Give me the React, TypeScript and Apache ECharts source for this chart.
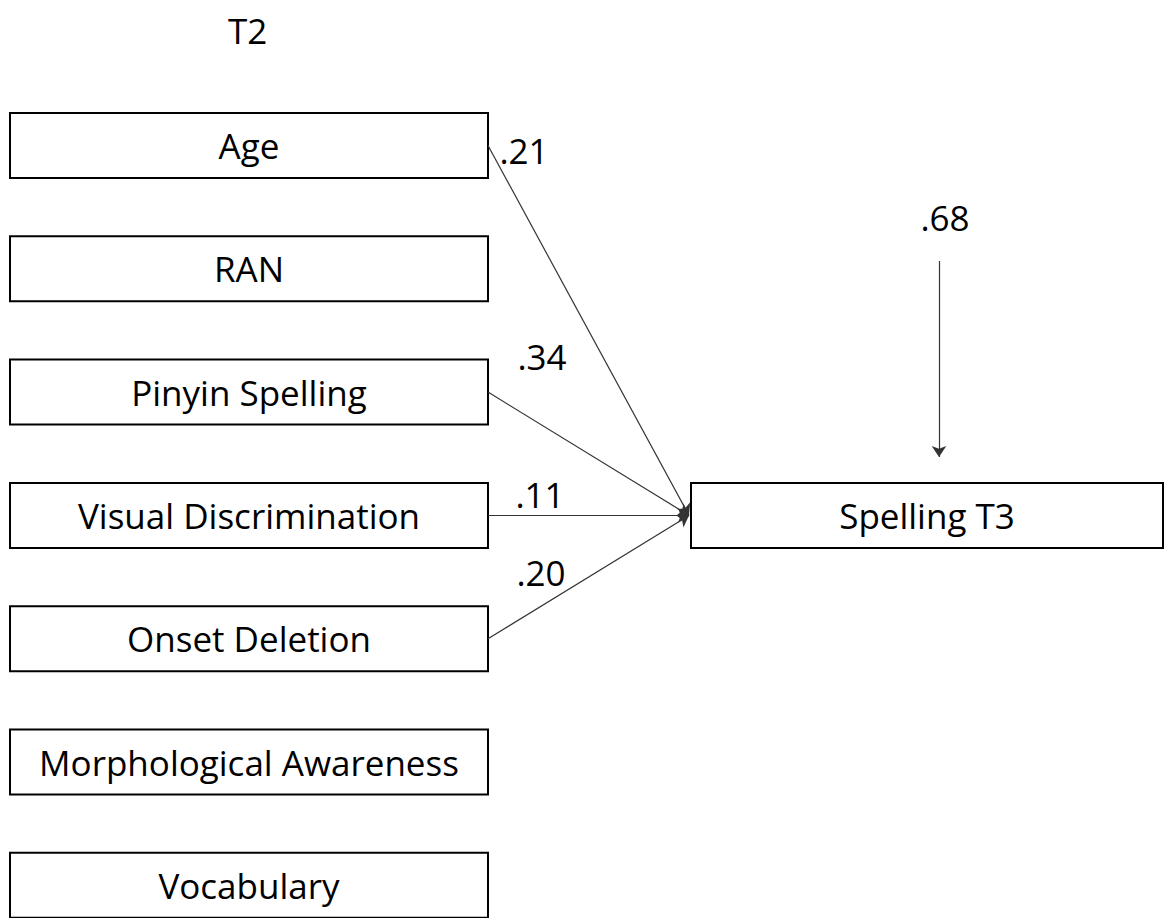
import React, { useEffect, useRef } from 'react';
import * as echarts from 'echarts';

// ---- data ----
const timeLabel = 'T2';
const predictors = [
  'Age',
  'RAN',
  'Pinyin Spelling',
  'Visual Discrimination',
  'Onset Deletion',
  'Morphological Awareness',
  'Vocabulary',
];
const outcome = 'Spelling T3';
const outcomeRow = 3;
const coefficients = ['.21', '', '.34', '.11', '.20', '', ''];
const residual = '.68';

// ---- layout (pixels) ----
const W = 1164;
const H = 918;
const BOX_X0 = 10;
const BOX_X1 = 488;
const TOP0 = 113;
const STEP = 123.3;
const BOX_H = 65;
const OUT_X0 = 691;
const OUT_X1 = 1163;
const FONT = '"Open Sans", "Noto Sans", sans-serif';
const FONT_SIZE = 35;
const LABEL_SIZE = 35;
// label anchor offsets per row: [x, dy from row centre]
const labelPos: Record<number, [number, number]> = {
  0: [524, 5],
  2: [542, -36],
  3: [540, -21],
  4: [541, -66],
};

const rowTop = (i: number) => TOP0 + i * STEP;
const rowMid = (i: number) => rowTop(i) + BOX_H / 2;

export default function App() {
  const ref = useRef<HTMLDivElement>(null);
  useEffect(() => {
    document.body.style.margin = '0';
    if (!ref.current) return;
    const chart = echarts.init(ref.current, undefined, { renderer: 'svg' });

    const boxes = predictors.map((name, i) => ({
      value: [BOX_X0, rowTop(i), BOX_X1, rowTop(i) + BOX_H],
      name,
    }));
    boxes.push({
      value: [OUT_X0, rowTop(outcomeRow), OUT_X1, rowTop(outcomeRow) + BOX_H],
      name: outcome,
    });

    const target: [number, number] = [OUT_X0 - 2, rowMid(outcomeRow)];
    const paths = coefficients
      .map((c, i) => (c ? { coords: [[BOX_X1, rowMid(i)], target] } : null))
      .filter(Boolean);
    paths.push({ coords: [[939, 261], [939, 457]] } as any);

    const labels = coefficients
      .map((c, i) =>
        c ? { value: [labelPos[i][0], rowMid(i) + labelPos[i][1]], name: c } : null
      )
      .filter(Boolean);
    labels.push({ value: [945, 217], name: residual } as any);

    chart.setOption({
      animation: false,
      backgroundColor: '#ffffff',
      grid: { left: 0, right: 0, top: 0, bottom: 0 },
      xAxis: { type: 'value', min: 0, max: W, show: false },
      yAxis: { type: 'value', min: 0, max: H, inverse: true, show: false },
      graphic: [
        {
          type: 'text',
          left: 228,
          top: 13,
          style: { text: timeLabel, font: `${FONT_SIZE}px ${FONT}`, fill: '#000' },
        },
      ],
      series: [
        {
          type: 'lines',
          coordinateSystem: 'cartesian2d',
          symbol: ['none', 'arrow'],
          symbolSize: 11,
          lineStyle: { color: '#333', width: 1.2, opacity: 1 },
          data: paths,
          z: 3,
        },
        {
          type: 'custom',
          coordinateSystem: 'cartesian2d',
          data: boxes,
          z: 2,
          renderItem: (params: any, api: any) => {
            const p0 = api.coord([api.value(0), api.value(1)]);
            const p1 = api.coord([api.value(2), api.value(3)]);
            const name = boxes[params.dataIndex].name;
            return {
              type: 'group',
              children: [
                {
                  type: 'rect',
                  shape: { x: p0[0], y: p0[1], width: p1[0] - p0[0], height: p1[1] - p0[1] },
                  style: { fill: '#fff', stroke: '#000', lineWidth: 2 },
                },
                {
                  type: 'text',
                  style: {
                    text: name,
                    x: (p0[0] + p1[0]) / 2,
                    y: (p0[1] + p1[1]) / 2,
                    align: 'center',
                    verticalAlign: 'middle',
                    font: `${FONT_SIZE}px ${FONT}`,
                    fill: '#000',
                  },
                },
              ],
            };
          },
        },
        {
          type: 'scatter',
          symbolSize: 0,
          itemStyle: { opacity: 1 },
          data: labels,
          label: {
            show: true,
            position: 'inside',
            formatter: (p: any) => p.name,
            fontFamily: FONT,
            fontSize: LABEL_SIZE,
            color: '#000',
            opacity: 1,
          },
          z: 4,
        },
      ],
    });
    return () => chart.dispose();
  }, []);
  return <div ref={ref} style={{ width: W, height: H }} />;
}
